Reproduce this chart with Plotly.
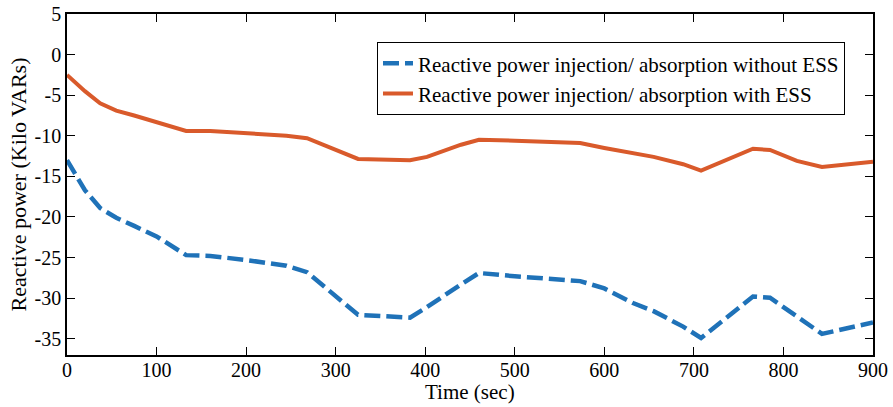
import plotly.graph_objects as go

# Sample times (s) and reactive power (kVAR) for both operating cases
time_sec = [0, 20, 37, 55, 75, 100, 133, 160, 200, 245, 268, 325, 383, 402, 440,
            460, 500, 530, 573, 600, 632, 655, 688, 708, 766, 785, 815, 843, 900]
q_without_ess = [-13.0, -16.7, -18.9, -20.1, -21.1, -22.4, -24.7, -24.8, -25.3, -26.0,
                 -26.8, -32.05, -32.4, -31.1, -28.3, -26.9, -27.3, -27.6, -27.9, -28.8,
                 -30.6, -31.6, -33.5, -34.9, -29.8, -29.95, -32.3, -34.4, -33.0]
q_with_ess = [-2.5, -4.5, -6.0, -6.9, -7.5, -8.3, -9.4, -9.4, -9.7, -10.0,
              -10.3, -12.85, -13.0, -12.6, -11.1, -10.5, -10.6, -10.75, -10.9, -11.5,
              -12.1, -12.6, -13.5, -14.3, -11.6, -11.75, -13.1, -13.85, -13.2]

x_ticks = list(range(0, 901, 100))
y_ticks = list(range(-35, 6, 5))

FONT = "Liberation Serif"

fig = go.Figure()
fig.add_trace(go.Scatter(
    x=time_sec, y=q_without_ess, mode="lines",
    name="Reactive power injection/ absorption without ESS",
    line=dict(color="#1f72b8", width=4.5, dash="16px,6px"),
))
fig.add_trace(go.Scatter(
    x=time_sec, y=q_with_ess, mode="lines",
    name="Reactive power injection/ absorption with ESS",
    line=dict(color="#d95a2b", width=4),
))

axis_common = dict(
    showline=True, linecolor="black", linewidth=1.5, mirror="ticks",
    ticks="inside", ticklen=8, tickwidth=1.2, tickcolor="black",
    showgrid=False, zeroline=False, automargin=False,
    tickfont=dict(family=FONT, size=20, color="black"),
)

fig.update_xaxes(
    range=[0, 900], tickvals=x_ticks, ticktext=[str(v) for v in x_ticks],
    ticklabelstandoff=-4,
    **axis_common,
)
fig.update_yaxes(
    range=[-37, 5], tickvals=y_ticks, ticktext=[str(v) for v in y_ticks],
    title=dict(text="Reactive power (Kilo VARs)", font=dict(family=FONT, size=22, color="black"), standoff=2),
    **axis_common,
)

# x-axis title placed just under the tick labels
fig.add_annotation(
    text="Time (sec)", xref="paper", yref="paper", x=0.5, y=-0.108,
    xanchor="center", yanchor="middle", showarrow=False,
    font=dict(family=FONT, size=21, color="black"),
)

fig.update_layout(
    width=893, height=407,
    margin=dict(l=67, r=20, t=14, b=52),
    paper_bgcolor="white", plot_bgcolor="white",
    showlegend=True,
    legend=dict(
        x=0.965, y=0.918, xanchor="right", yanchor="top",
        bgcolor="white", bordercolor="black", borderwidth=1.2,
        font=dict(family=FONT, size=21, color="black"),
        itemwidth=30, tracegroupgap=0,
    ),
)

fig.write_html("out.html")
